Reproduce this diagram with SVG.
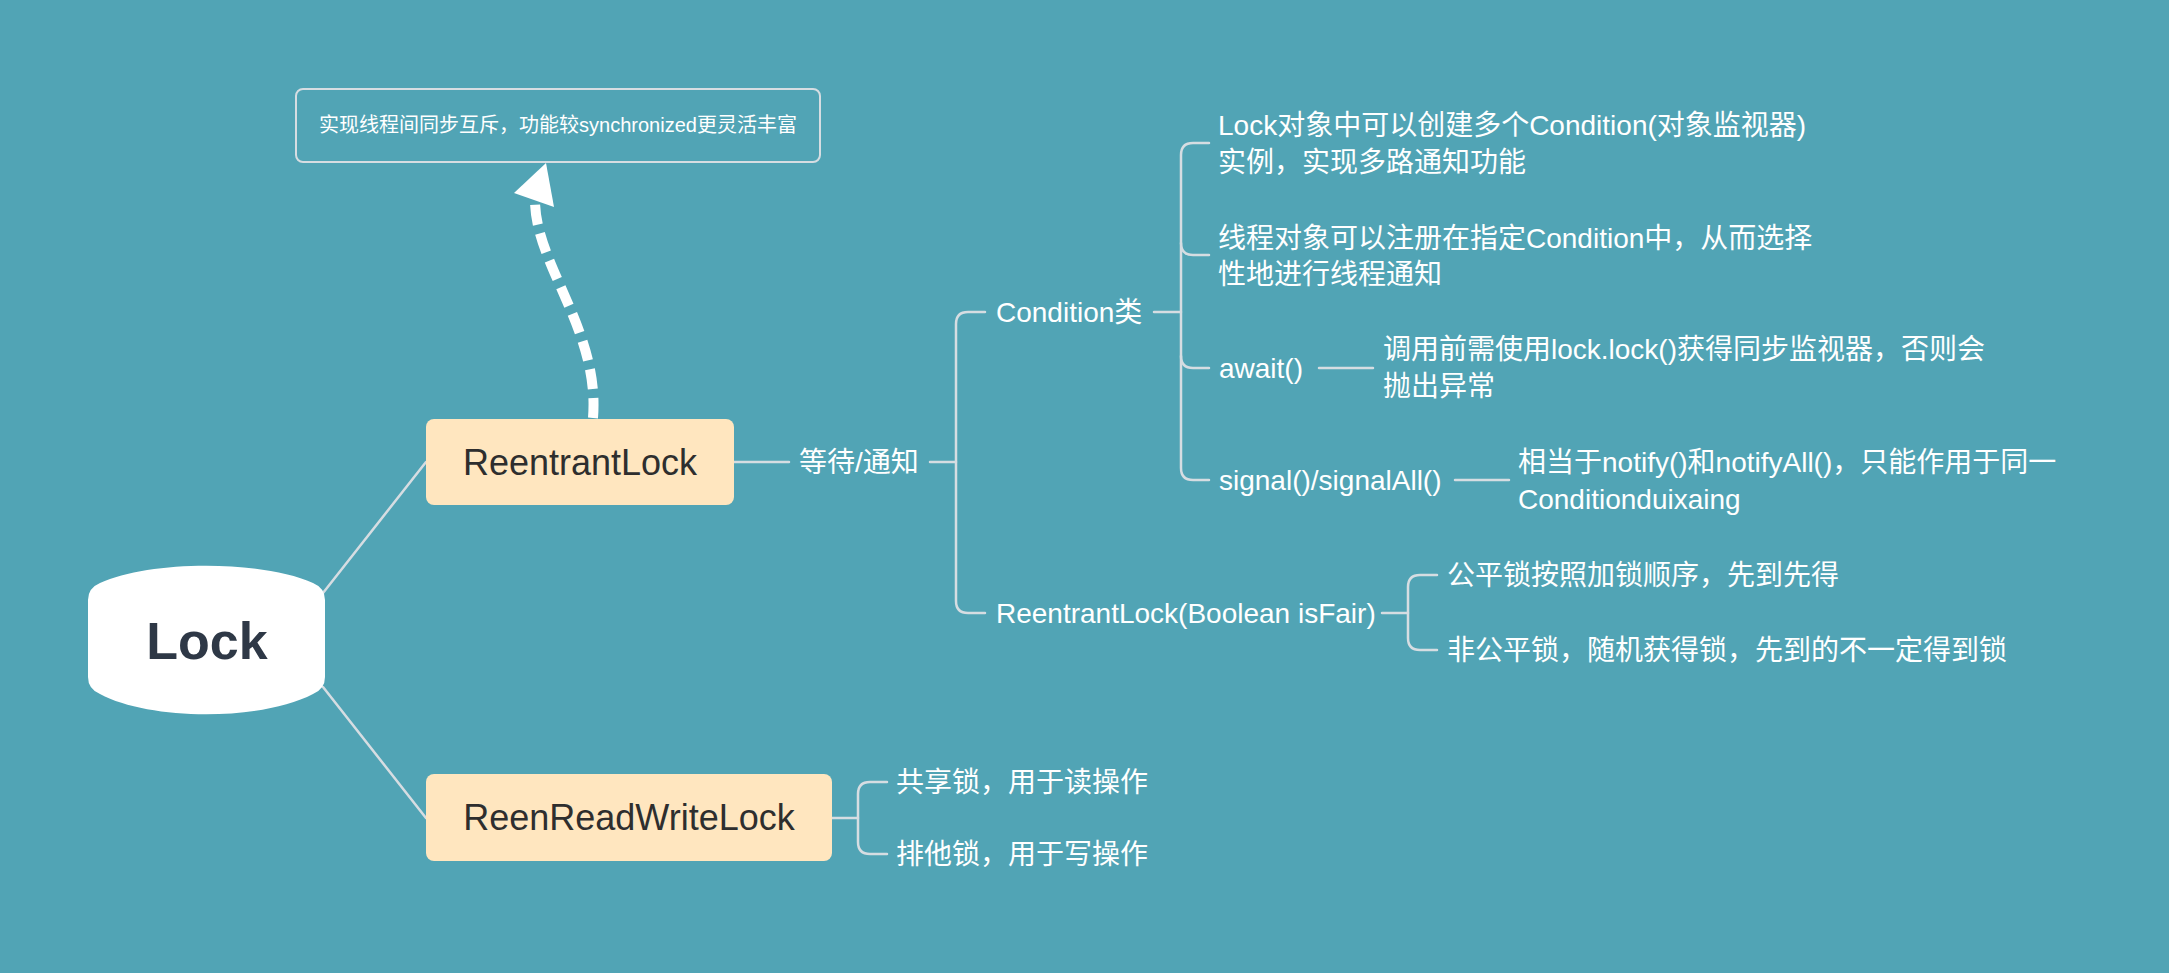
<svg xmlns="http://www.w3.org/2000/svg" width="2169" height="973" viewBox="0 0 2169 973">
<style>
.bg{fill:#51A4B5}
.ln{fill:none;stroke:#D6DDE2;stroke-width:2.5;stroke-linecap:round}
.t{font-family:"Liberation Sans","Noto Sans CJK SC",sans-serif;font-size:28px;fill:#FFFFFF}
.box{fill:#FFE6BF}
.bt{font-family:"Liberation Sans","Noto Sans CJK SC",sans-serif;font-size:36px;fill:#2E2E2E;text-anchor:middle}
</style>
<rect class="bg" x="0" y="0" width="2169" height="973"/>
<g id="connectors">
<line class="ln" x1="323" y1="593" x2="426" y2="462"/>
<line class="ln" x1="323" y1="687" x2="426" y2="818"/>
<path class="ln" d="M734,462 L789,462"/>
<path class="ln" d="M930,462 L956,462"/>
<path class="ln" d="M985,312 L968,312 Q956,312 956,324 L956,601 Q956,613 968,613 L985,613"/>
<path class="ln" d="M1154,312 L1181,312"/>
<path class="ln" d="M1209,143 L1193,143 Q1181,143 1181,155 L1181,468 Q1181,480 1193,480 L1209,480"/>
<path class="ln" d="M1181,243 Q1181,255 1193,255 L1209,255"/>
<path class="ln" d="M1181,356 Q1181,368 1193,368 L1209,368"/>
<path class="ln" d="M1319,368 L1373,368"/>
<path class="ln" d="M1455,480 L1509,480"/>
<path class="ln" d="M1382,613 L1408,613"/>
<path class="ln" d="M1437,575 L1420,575 Q1408,575 1408,587 L1408,638 Q1408,650 1420,650 L1437,650"/>
<path class="ln" d="M832,818 L858,818"/>
<path class="ln" d="M887,782 L870,782 Q858,782 858,794 L858,842 Q858,854 870,854 L887,854"/>
<path d="M593,418 C600,330 535,265 535,200" fill="none" stroke="#FFFFFF" stroke-width="10" stroke-dasharray="20 9"/>
<polygon points="546,163 514,193 554,207" fill="#FFFFFF"/>
</g>
<g id="note">
<rect x="296" y="89" width="524" height="73" rx="7" fill="none" stroke="#D6DDE2" stroke-width="2"/>
<text class="t" x="558" y="132" text-anchor="middle" style="font-size:20px">实现线程间同步互斥，功能较synchronized更灵活丰富</text>
</g>
<g id="lock">
<path d="M88,600 Q88,588 100,583 C150,560 262,560 313,583 Q325,588 325,600 L325,677 Q325,689 313,694 C262,721 150,721 100,694 Q88,689 88,677 Z" fill="#FFFFFF"/>
<text x="207" y="659" font-family="'Liberation Sans',sans-serif" font-size="52" font-weight="bold" fill="#2E3846" text-anchor="middle">Lock</text>
</g>
<g id="reentrantlock">
<rect class="box" x="426" y="419" width="308" height="86" rx="8"/>
<text class="bt" x="580" y="475">ReentrantLock</text>
</g>
<g id="reenreadwritelock">
<rect class="box" x="426" y="774" width="406" height="87" rx="8"/>
<text class="bt" x="629" y="830">ReenReadWriteLock</text>
</g>
<g id="wait-notify"><text class="t" x="799" y="472">等待/通知</text></g>
<g id="condition"><text class="t" x="996" y="322">Condition类</text></g>
<g id="cond-1">
<text class="t" x="1218" y="135">Lock对象中可以创建多个Condition(对象监视器)</text>
<text class="t" x="1218" y="172">实例，实现多路通知功能</text>
</g>
<g id="cond-2">
<text class="t" x="1218" y="248">线程对象可以注册在指定Condition中，从而选择</text>
<text class="t" x="1218" y="284">性地进行线程通知</text>
</g>
<g id="await"><text class="t" x="1219" y="378">await()</text></g>
<g id="await-desc">
<text class="t" x="1383" y="359">调用前需使用lock.lock()获得同步监视器，否则会</text>
<text class="t" x="1383" y="396">抛出异常</text>
</g>
<g id="signal"><text class="t" x="1219" y="490">signal()/signalAll()</text></g>
<g id="signal-desc">
<text class="t" x="1518" y="472">相当于notify()和notifyAll()，只能作用于同一</text>
<text class="t" x="1518" y="509">Conditionduixaing</text>
</g>
<g id="fair-ctor"><text class="t" x="996" y="623">ReentrantLock(Boolean isFair)</text></g>
<g id="fair"><text class="t" x="1447" y="585">公平锁按照加锁顺序，先到先得</text></g>
<g id="unfair"><text class="t" x="1447" y="660">非公平锁，随机获得锁，先到的不一定得到锁</text></g>
<g id="shared"><text class="t" x="896" y="792">共享锁，用于读操作</text></g>
<g id="exclusive"><text class="t" x="896" y="864">排他锁，用于写操作</text></g>
</svg>
